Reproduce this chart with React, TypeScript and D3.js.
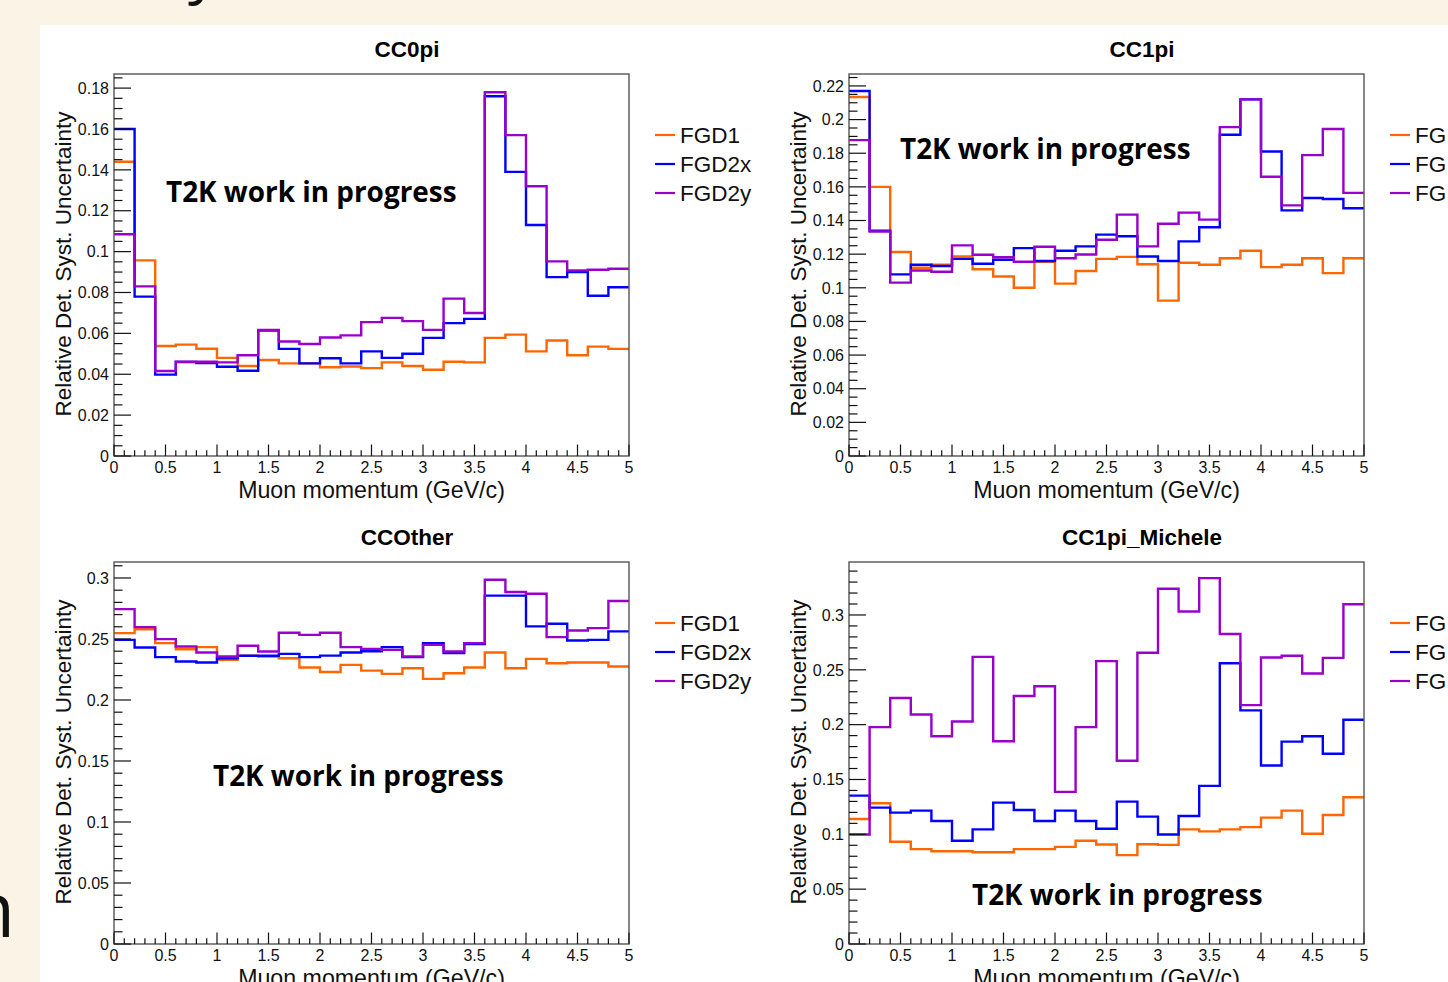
import React from "react";
import * as d3 from "d3";

// ---------- data ----------
const binEdges = [0, 0.2, 0.4, 0.6, 0.8, 1.0, 1.2, 1.4, 1.6, 1.8, 2.0, 2.2, 2.4, 2.6, 2.8, 3.0, 3.2, 3.4, 3.6, 3.8, 4.0, 4.2, 4.4, 4.6, 4.8, 5.0];
const xTickLabels = [0, 0.5, 1, 1.5, 2, 2.5, 3, 3.5, 4, 4.5, 5];
const seriesNames = ["FGD1", "FGD2x", "FGD2y"];
const panelTitles = ["CC0pi", "CC1pi", "CCOther", "CC1pi_Michele"];

const cc0piFGD1 = [0.144, 0.0957, 0.0538, 0.0545, 0.0525, 0.048, 0.044, 0.047, 0.0453, 0.0453, 0.0434, 0.0438, 0.043, 0.0458, 0.044, 0.0422, 0.0461, 0.0458, 0.0578, 0.0594, 0.0512, 0.0565, 0.0493, 0.0535, 0.0524];
const cc0piFGD2x = [0.16, 0.078, 0.0398, 0.046, 0.0455, 0.0437, 0.0417, 0.0614, 0.0524, 0.0453, 0.0478, 0.0453, 0.0512, 0.048, 0.05, 0.0578, 0.065, 0.0671, 0.176, 0.139, 0.113, 0.0875, 0.09, 0.0784, 0.0826];
const cc0piFGD2y = [0.1085, 0.083, 0.0416, 0.0461, 0.0461, 0.0458, 0.0493, 0.0617, 0.056, 0.0548, 0.058, 0.059, 0.0655, 0.0676, 0.066, 0.0617, 0.077, 0.07, 0.178, 0.157, 0.132, 0.0952, 0.0908, 0.0911, 0.0916];

const cc1piFGD1 = [0.2134, 0.16, 0.1213, 0.1119, 0.1137, 0.1186, 0.111, 0.1067, 0.1, 0.1155, 0.1025, 0.11, 0.1172, 0.1184, 0.114, 0.0924, 0.1149, 0.1137, 0.1176, 0.122, 0.1123, 0.1137, 0.1176, 0.1087, 0.1176];
const cc1piFGD2x = [0.217, 0.134, 0.108, 0.1137, 0.113, 0.1172, 0.1143, 0.1167, 0.1236, 0.1159, 0.122, 0.1246, 0.1316, 0.1306, 0.1186, 0.1159, 0.1276, 0.136, 0.191, 0.212, 0.181, 0.146, 0.1534, 0.1528, 0.1473];
const cc1piFGD2y = [0.1878, 0.1335, 0.1031, 0.1103, 0.1095, 0.1252, 0.1196, 0.1182, 0.1155, 0.1244, 0.1176, 0.1198, 0.1286, 0.1435, 0.1246, 0.1381, 0.1447, 0.1405, 0.1955, 0.212, 0.166, 0.149, 0.1789, 0.1944, 0.1564];

const ccOtherFGD1 = [0.2548, 0.258, 0.2466, 0.2416, 0.2433, 0.2329, 0.2362, 0.2356, 0.2342, 0.2266, 0.223, 0.2288, 0.2241, 0.2214, 0.226, 0.2173, 0.2219, 0.2266, 0.2389, 0.226, 0.2337, 0.2301, 0.2307, 0.2307, 0.2274];
const ccOtherFGD2x = [0.2493, 0.243, 0.2351, 0.2315, 0.2307, 0.2342, 0.2362, 0.2362, 0.2378, 0.2351, 0.2364, 0.2389, 0.24, 0.2433, 0.2351, 0.2466, 0.2384, 0.2458, 0.2855, 0.2855, 0.2603, 0.2625, 0.2488, 0.2493, 0.2562];
const ccOtherFGD2y = [0.2745, 0.2597, 0.2499, 0.2438, 0.2389, 0.2356, 0.2444, 0.2397, 0.2551, 0.2534, 0.2551, 0.2433, 0.2419, 0.2411, 0.2356, 0.2452, 0.2397, 0.2466, 0.2986, 0.2885, 0.2871, 0.2515, 0.257, 0.2589, 0.2811];

const michFGD1 = [0.114, 0.1283, 0.0932, 0.0865, 0.0846, 0.0846, 0.0837, 0.0837, 0.0865, 0.0865, 0.0886, 0.0941, 0.0907, 0.081, 0.091, 0.0904, 0.1045, 0.1027, 0.1045, 0.1066, 0.1152, 0.1216, 0.1005, 0.1176, 0.1338];
const michFGD2x = [0.1353, 0.1243, 0.1198, 0.1216, 0.1121, 0.0941, 0.1045, 0.1289, 0.1222, 0.1121, 0.1216, 0.1121, 0.1051, 0.1298, 0.1161, 0.0999, 0.1167, 0.1442, 0.256, 0.213, 0.1628, 0.1845, 0.1894, 0.1735, 0.2044];
const michFGD2y = [0.0999, 0.1977, 0.2243, 0.2093, 0.1894, 0.2029, 0.2618, 0.1848, 0.2261, 0.235, 0.1387, 0.1977, 0.2579, 0.1671, 0.2655, 0.3239, 0.3031, 0.3336, 0.2826, 0.2178, 0.2612, 0.2628, 0.2466, 0.2609, 0.3098];

const cc0piYTicks = [0, 0.02, 0.04, 0.06, 0.08, 0.1, 0.12, 0.14, 0.16, 0.18];
const cc1piYTicks = [0, 0.02, 0.04, 0.06, 0.08, 0.1, 0.12, 0.14, 0.16, 0.18, 0.2, 0.22];
const ccOtherYTicks = [0, 0.05, 0.1, 0.15, 0.2, 0.25, 0.3];
const michYTicks = [0, 0.05, 0.1, 0.15, 0.2, 0.25, 0.3];

const yMaxes = [0.1869, 0.2271, 0.3131, 0.3483];
const yMinorSteps = [0.005, 0.005, 0.01, 0.01];

const panelSeries = [
  [cc0piFGD1, cc0piFGD2x, cc0piFGD2y],
  [cc1piFGD1, cc1piFGD2x, cc1piFGD2y],
  [ccOtherFGD1, ccOtherFGD2x, ccOtherFGD2y],
  [michFGD1, michFGD2x, michFGD2y],
];
const panelYTicks = [cc0piYTicks, cc1piYTicks, ccOtherYTicks, michYTicks];

// ---------- layout / style ----------
const W = 1448;
const H = 982;
const FRAME_X0 = 114;
const FRAME_Y0 = 74;
const FRAME_W = 515;
const FRAME_H = 382;
const COL_DX = 735;
const ROW_DY = 488;
const COLORS = ["#ff6600", "#0000ff", "#9900cc"];
const ROOT_FONT = "'Liberation Sans', Arial, Helvetica, sans-serif";
const WM_FONT = "'Open Sans', 'Noto Sans', sans-serif";
const watermarkPos = [
  [52, 128],
  [51, 85],
  [99, 224],
  [123, 343],
];

function fmt(v: number) {
  return String(+v.toFixed(3));
}

function Panel({ idx }: { idx: number }) {
  const col = idx % 2;
  const row = Math.floor(idx / 2);
  const fx = FRAME_X0 + col * COL_DX;
  const fy = FRAME_Y0 + row * ROW_DY;
  const x = d3.scaleLinear().domain([0, 5]).range([fx, fx + FRAME_W]);
  const y = d3.scaleLinear().domain([0, yMaxes[idx]]).range([fy + FRAME_H, fy]);
  const yb = fy + FRAME_H;

  const line = d3
    .line<[number, number]>()
    .x((d) => x(d[0]))
    .y((d) => y(d[1]))
    .curve(d3.curveStepAfter);

  const xMinor = d3.range(0, 50.5, 1).map((k) => k / 10);
  const yMinor = d3
    .range(0, Math.floor(yMaxes[idx] / yMinorSteps[idx] + 1e-6) + 1)
    .map((k) => +(k * yMinorSteps[idx]).toFixed(4));

  const series = panelSeries[idx];
  const [wx, wy] = watermarkPos[idx];
  const padCenter = fx + 293;
  // right-hand column legends are cut by the slide edge: only "FG" is visible
  const legendLabel = (n: string) => (col === 1 ? n.slice(0, 2) : n);

  return (
    <g>
      {/* title */}
      <text x={padCenter} y={fy - 17} textAnchor="middle" fontFamily={ROOT_FONT} fontWeight="bold" fontSize={22.5} fill="#000">
        {panelTitles[idx]}
      </text>

      {/* histograms */}
      {series.map((vals, si) => {
        const pts: [number, number][] = vals.map((v, i) => [binEdges[i], v] as [number, number]);
        pts.push([binEdges[binEdges.length - 1], vals[vals.length - 1]]);
        return <path key={si} d={line(pts) || ""} fill="none" stroke={COLORS[si]} strokeWidth={2.4} />;
      })}

      {/* frame */}
      <rect x={fx} y={fy} width={FRAME_W} height={FRAME_H} fill="none" stroke="#555" strokeWidth={1.4} />

      {/* x ticks */}
      {xMinor.map((t, i) => {
        const major = i % 5 === 0;
        return <line key={"xt" + i} x1={x(t)} x2={x(t)} y1={yb} y2={yb - (major ? 11.5 : 5.8)} stroke="#111" strokeWidth={1.2} />;
      })}
      {xTickLabels.map((t) => (
        <text key={"xl" + t} x={x(t)} y={yb + 16.5} textAnchor="middle" fontFamily={ROOT_FONT} fontSize={16} fill="#111">
          {fmt(t)}
        </text>
      ))}

      {/* y ticks */}
      {yMinor.map((t, i) => {
        const major = panelYTicks[idx].some((m) => Math.abs(m - t) < 1e-6);
        return <line key={"yt" + i} x1={fx} x2={fx + (major ? 17 : 8.5)} y1={y(t)} y2={y(t)} stroke="#111" strokeWidth={1.2} />;
      })}
      {panelYTicks[idx].map((t) => (
        <text key={"yl" + t} x={fx - 5} y={y(t)} dy="0.36em" textAnchor="end" fontFamily={ROOT_FONT} fontSize={16} fill="#111">
          {fmt(t)}
        </text>
      ))}

      {/* axis titles */}
      <text x={fx + FRAME_W / 2} y={yb + 42} textAnchor="middle" fontFamily={ROOT_FONT} fontSize={23.2} fill="#111">
        Muon momentum (GeV/c)
      </text>
      <text
        transform={`translate(${fx - 43},${fy + FRAME_H / 2 - 1}) rotate(-90)`}
        textAnchor="middle"
        fontFamily={ROOT_FONT}
        fontSize={22.5}
        fill="#111"
      >
        Relative Det. Syst. Uncertainty
      </text>

      {/* watermark */}
      <text x={fx + wx} y={fy + wy} fontFamily={WM_FONT} fontWeight="bold" fontSize={27.9} fill="#000">
        T2K work in progress
      </text>

      {/* legend */}
      {seriesNames.map((n, si) => {
        const ly = fy + 61 + si * 29;
        const lx = fx + FRAME_W + 26;
        return (
          <g key={"lg" + si}>
            <line x1={lx} x2={lx + 20} y1={ly} y2={ly} stroke={COLORS[si]} strokeWidth={2.2} />
            <text x={lx + 25} y={ly} dy="0.36em" fontFamily={ROOT_FONT} fontSize={22.5} fill="#111">
              {legendLabel(n)}
            </text>
          </g>
        );
      })}
    </g>
  );
}

export default function App() {
  return (
    <svg width={W} height={H} style={{ position: "absolute", left: 0, top: 0, display: "block" }}>
      <rect x={0} y={0} width={W} height={H} fill="#fbf3e6" />
      <text x={188} y={-9} fontFamily={WM_FONT} fontSize={62} fill="#111">y</text>
      <text x={15} y={937} textAnchor="end" fontFamily={WM_FONT} fontSize={76} fill="#111">n</text>
      <rect x={40} y={25} width={W - 40} height={H - 25} fill="#ffffff" />
      {[0, 1, 2, 3].map((i) => (
        <Panel key={i} idx={i} />
      ))}
    </svg>
  );
}
